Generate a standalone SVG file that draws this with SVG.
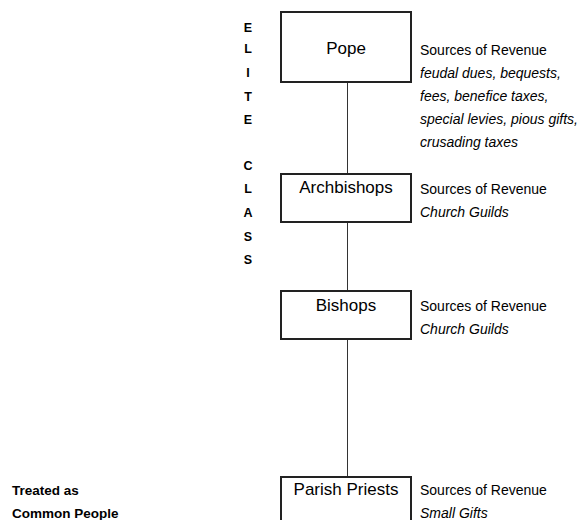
<svg xmlns="http://www.w3.org/2000/svg" width="577" height="520" viewBox="0 0 577 520">
<style>
.box{fill:#fff;stroke:#222;stroke-width:2}
.t{font-family:"Liberation Sans",Arial,sans-serif;fill:#000}
.title{font-size:17px;text-anchor:middle}
.src{font-size:14px}
.it{font-size:14px;font-style:italic}
.b{font-size:13.5px;font-weight:bold}
.el{font-size:12.5px;font-weight:bold;text-anchor:middle}
.ln{stroke:#333;stroke-width:1;fill:none}
</style>
<rect width="577" height="520" fill="#fff"/>
<g id="connectors">
<line class="ln" x1="347.5" y1="82" x2="347.5" y2="174"/>
<line class="ln" x1="347.5" y1="222" x2="347.5" y2="291"/>
<line class="ln" x1="347.5" y1="339" x2="347.5" y2="477"/>
</g>
<g id="elite-class">
<text class="t el" x="248" y="32">E</text>
<text class="t el" x="248" y="53">L</text>
<text class="t el" x="248" y="77">I</text>
<text class="t el" x="248" y="101">T</text>
<text class="t el" x="248" y="124">E</text>
<text class="t el" x="248" y="170">C</text>
<text class="t el" x="248" y="193">L</text>
<text class="t el" x="248" y="217">A</text>
<text class="t el" x="248" y="241">S</text>
<text class="t el" x="248" y="264">S</text>
</g>
<g id="pope">
<rect class="box" x="281" y="12" width="130" height="70"/>
<text class="t title" x="346" y="54">Pope</text>
<text class="t src" x="420" y="55">Sources of Revenue</text>
<text class="t it" x="420" y="78">feudal dues, bequests,</text>
<text class="t it" x="420" y="101">fees, benefice taxes,</text>
<text class="t it" x="420" y="124">special levies, pious gifts,</text>
<text class="t it" x="420" y="147">crusading taxes</text>
</g>
<g id="archbishops">
<rect class="box" x="281" y="174" width="130" height="48"/>
<text class="t title" x="346" y="193">Archbishops</text>
<text class="t src" x="420" y="194">Sources of Revenue</text>
<text class="t it" x="420" y="217">Church Guilds</text>
</g>
<g id="bishops">
<rect class="box" x="281" y="291" width="130" height="48"/>
<text class="t title" x="346" y="311">Bishops</text>
<text class="t src" x="420" y="311">Sources of Revenue</text>
<text class="t it" x="420" y="334">Church Guilds</text>
</g>
<g id="parish-priests">
<rect class="box" x="281" y="477" width="130" height="60"/>
<text class="t title" x="346" y="495">Parish Priests</text>
<text class="t src" x="420" y="495">Sources of Revenue</text>
<text class="t it" x="420" y="518">Small Gifts</text>
</g>
<g id="common">
<text class="t b" x="12" y="495">Treated as</text>
<text class="t b" x="12" y="518">Common People</text>
</g>
</svg>
